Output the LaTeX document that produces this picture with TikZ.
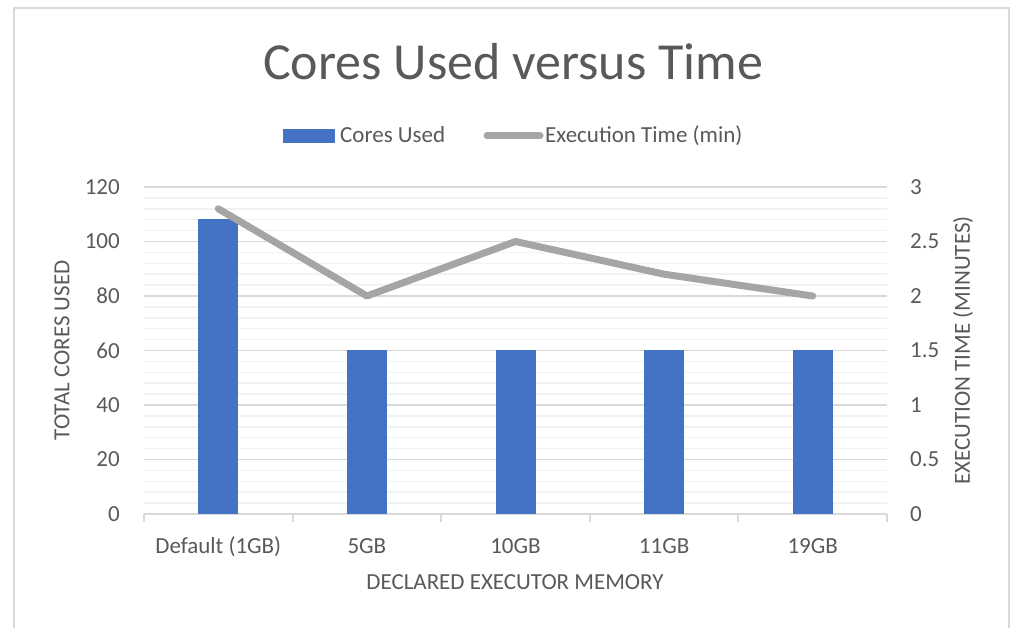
\documentclass[tikz,border=0pt]{standalone}
\usepackage{fontspec}
\setmainfont{Carlito}

\definecolor{barblue}{HTML}{4472C4}
\definecolor{linegray}{HTML}{A5A5A5}
\definecolor{textgray}{HTML}{595959}
\definecolor{majorgrid}{HTML}{D9D9D9}
\definecolor{minorgrid}{HTML}{F2F2F2}

\tikzset{
    smalltext/.style={text=textgray, font=\fontsize{23}{27}\selectfont, inner sep=0pt},
    bar/.style={fill=barblue, draw=none, inner sep=0pt, minimum width=40pt, anchor=south},
    timeline/.style={linegray, line width=7pt, line cap=round, line join=round},
}

\begin{document}
\begin{tikzpicture}[x=1pt, y=-1pt]
    \useasboundingbox (0,0) rectangle (1010,628);
    % frame
    \draw[majorgrid, line width=1.5pt] (14,640) -- (14,8) -- (1009,8) -- (1009,640);

    % title
    \node[text=textgray, font=\fontsize{52}{60}\selectfont, inner sep=0pt, anchor=base] (title) at (513,80) {Cores Used versus Time};

    % legend
    \fill[barblue] (283,129) rectangle (335,143);
    \node[smalltext, anchor=base west] (legcores) at (340,143) {Cores Used};
    \coordinate (legA) at (487,136);
    \coordinate (legB) at (540,136);
    \draw[timeline] (legA) -- (legB);
    \node[smalltext, anchor=base west] (legtime) at (545,143) {Execution Time (min)};

    % gridlines
    \foreach \k in {1,...,30} {
        \draw[minorgrid, line width=1.5pt] (144,{514-\k*10.9}) -- (887,{514-\k*10.9});
    }
    \foreach \k in {1,...,6} {
        \draw[majorgrid, line width=1.5pt] (144,{514-\k*54.5}) -- (887,{514-\k*54.5});
    }

    % axis
    \draw[majorgrid, line width=2pt] (144,514) -- (887,514);
    \foreach \x in {144,292.6,441.2,589.8,738.4,887} {
        \draw[majorgrid, line width=2pt] (\x,514) -- (\x,522);
    }

    % left ticks
    \node[smalltext, anchor=east] (l0) at (120,514) {0};
    \node[smalltext, anchor=east] (l20) at (120,459.5) {20};
    \node[smalltext, anchor=east] (l40) at (120,405) {40};
    \node[smalltext, anchor=east] (l60) at (120,350.5) {60};
    \node[smalltext, anchor=east] (l80) at (120,296) {80};
    \node[smalltext, anchor=east] (l100) at (120,241.5) {100};
    \node[smalltext, anchor=east] (l120) at (120,187) {120};

    % right ticks
    \node[smalltext, anchor=west] (r0) at (910,514) {0};
    \node[smalltext, anchor=west] (r05) at (910,459.5) {0.5};
    \node[smalltext, anchor=west] (r1) at (910,405) {1};
    \node[smalltext, anchor=west] (r15) at (910,350.5) {1.5};
    \node[smalltext, anchor=west] (r2) at (910,296) {2};
    \node[smalltext, anchor=west] (r25) at (910,241.5) {2.5};
    \node[smalltext, anchor=west] (r3) at (910,187) {3};

    % axis titles
    \node[smalltext, rotate=90] (ytitle) at (62,350.5) {TOTAL CORES USED};
    \node[smalltext, rotate=90] (y2title) at (963,350.5) {EXECUTION TIME (MINUTES)};
    \node[smalltext, anchor=base] (xtitle) at (515,589) {DECLARED EXECUTOR MEMORY};

    % bars
    \node[bar, minimum height=294.3pt] (b1) at (218.3,514) {};
    \node[bar, minimum height=163.5pt] (b2) at (366.9,514) {};
    \node[bar, minimum height=163.5pt] (b3) at (515.5,514) {};
    \node[bar, minimum height=163.5pt] (b4) at (664.1,514) {};
    \node[bar, minimum height=163.5pt] (b5) at (812.7,514) {};

    % categories
    \node[smalltext, anchor=base] (c1) at (218.3,553) {Default (1GB)};
    \node[smalltext, anchor=base] (c2) at (366.9,553) {5GB};
    \node[smalltext, anchor=base] (c3) at (515.5,553) {10GB};
    \node[smalltext, anchor=base] (c4) at (664.1,553) {11GB};
    \node[smalltext, anchor=base] (c5) at (812.7,553) {19GB};

    % execution time
    \coordinate (t1) at (218.3,208.8);
    \coordinate (t2) at (366.9,296);
    \coordinate (t3) at (515.5,241.5);
    \coordinate (t4) at (664.1,274.2);
    \coordinate (t5) at (812.7,296);
    \draw[timeline] (t1) -- (t2) -- (t3) -- (t4) -- (t5);
\end{tikzpicture}
\end{document}
